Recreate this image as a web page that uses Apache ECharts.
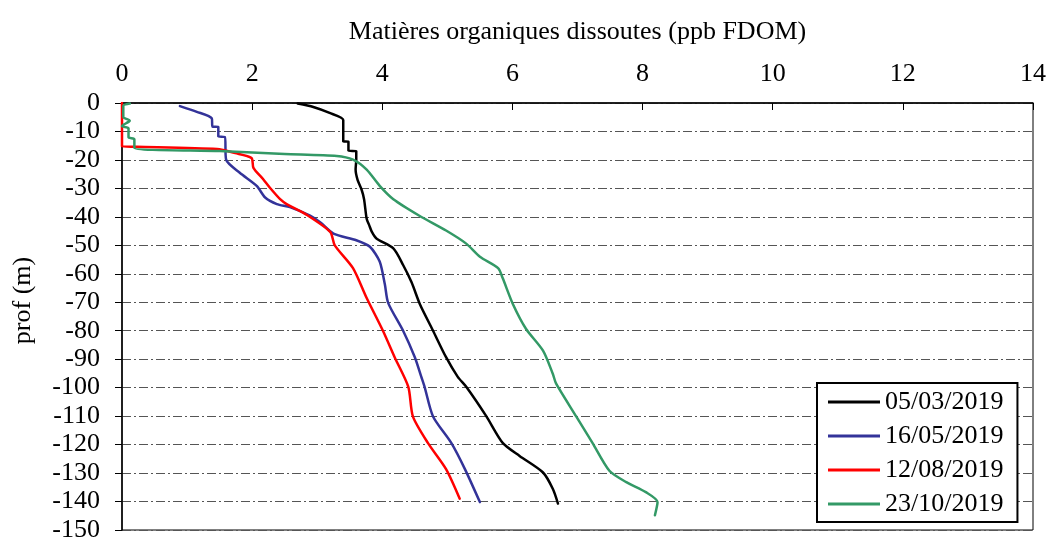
<!DOCTYPE html>
<html>
<head>
<meta charset="utf-8">
<script src="https://cdn.jsdelivr.net/npm/echarts@6/dist/echarts.min.js"></script>
<style>
  html, body { margin: 0; padding: 0; background: #fff; }
  #chart { width: 1049px; height: 543px; }
</style>
</head>
<body>
<div id="chart"></div>
<script>
// Profils verticaux de FDOM (ppb) en fonction de la profondeur (m)
const seriesNames = ['05/03/2019', '16/05/2019', '12/08/2019', '23/10/2019'];
const seriesColors = ['#000000', '#333399', '#FF0000', '#339966'];

const prof0503 = [-0.2, -1.4, -3.5, -6.0, -13.5, -13.6, -16.8, -16.9, -19.9, -23.4, -27.0, -30.3, -33.8, -40.7, -43.0, -45.3, -47.6, -51.1, -56.9, -63.0, -70.8, -80.0, -89.3, -96.2, -99.7, -110.1, -119.4, -124.0, -129.8, -135.5, -140.7];
const fdom0503 = [2.70, 2.94, 3.19, 3.40, 3.40, 3.48, 3.48, 3.60, 3.60, 3.59, 3.62, 3.68, 3.72, 3.76, 3.80, 3.84, 3.91, 4.17, 4.32, 4.45, 4.58, 4.78, 4.98, 5.16, 5.29, 5.60, 5.85, 6.11, 6.47, 6.62, 6.70];

const prof1605 = [-1.1, -3.1, -5.4, -8.3, -8.4, -11.8, -11.9, -19.9, -24.5, -29.1, -33.2, -35.5, -36.6, -39.6, -42.0, -45.9, -48.2, -50.5, -55.7, -63.8, -70.2, -80.0, -89.3, -96.2, -99.7, -110.1, -119.4, -128.6, -140.2];
const fdom1605 = [0.89, 1.15, 1.38, 1.39, 1.48, 1.48, 1.58, 1.60, 1.81, 2.07, 2.20, 2.38, 2.58, 2.89, 3.05, 3.25, 3.60, 3.81, 3.96, 4.04, 4.09, 4.32, 4.50, 4.60, 4.65, 4.78, 5.06, 5.27, 5.50];

const prof1208 = [0.0, -15.3, -15.4, -16.2, -17.6, -19.3, -22.8, -26.8, -29.7, -33.8, -35.5, -39.3, -45.3, -50.0, -58.0, -68.5, -80.0, -89.3, -99.7, -110.1, -119.4, -128.6, -139.0];
const fdom1208 = [0.00, 0.00, 0.23, 1.46, 1.74, 1.99, 2.02, 2.17, 2.27, 2.43, 2.53, 2.84, 3.20, 3.27, 3.55, 3.76, 4.01, 4.19, 4.40, 4.47, 4.70, 4.98, 5.19];

const prof2310 = [-0.2, -1.0, -4.9, -6.2, -8.1, -8.9, -12.0, -12.7, -15.8, -16.9, -17.9, -18.6, -19.9, -23.4, -29.1, -33.8, -39.6, -44.8, -49.4, -54.0, -58.0, -61.5, -70.8, -79.4, -87.0, -95.1, -98.5, -110.1, -119.4, -129.2, -133.2, -136.7, -140.2, -144.8];
const fdom2310 = [0.12, 0.02, 0.02, 0.12, 0.00, 0.10, 0.10, 0.19, 0.19, 1.50, 2.50, 3.30, 3.55, 3.76, 3.96, 4.17, 4.57, 4.98, 5.29, 5.50, 5.78, 5.85, 6.01, 6.21, 6.47, 6.62, 6.67, 6.98, 7.23, 7.49, 7.75, 8.05, 8.23, 8.19];

const xTickMin = 0, xTickMax = 14, xTickStep = 2;
const yTickMin = -150, yTickMax = 0, yTickStep = 10;

const profils = [[fdom0503, prof0503], [fdom1605, prof1605], [fdom1208, prof1208], [fdom2310, prof2310]];

const fontFamily = "'Liberation Serif', 'Times New Roman', serif";
const chart = echarts.init(document.getElementById('chart'), null, { renderer: 'canvas' });

chart.setOption({
  animation: false,
  backgroundColor: '#ffffff',
  textStyle: { fontFamily: fontFamily, color: '#000' },
  grid: {
    left: 122, top: 103, right: 15, bottom: 8,
    show: true, borderColor: '#000', borderWidth: 1, backgroundColor: 'transparent'
  },
  legend: {
    orient: 'vertical',
    left: 817, top: 383,
    width: 201,
    backgroundColor: '#fff',
    borderColor: '#000', borderWidth: 2,
    padding: [6, 14, 5, 11],
    itemGap: 8,
    itemWidth: 52, itemHeight: 3,
    icon: 'rect',
    textStyle: { fontFamily: fontFamily, fontSize: 26, color: '#000' },
    data: seriesNames
  },
  xAxis: {
    type: 'value',
    position: 'top',
    min: xTickMin, max: xTickMax, interval: xTickStep,
    name: 'Matières organiques dissoutes (ppb FDOM)',
    nameLocation: 'middle',
    nameGap: 58,
    nameTextStyle: { fontFamily: fontFamily, fontSize: 26, color: '#000' },
    axisLine: { show: true, onZero: false, lineStyle: { color: '#000', width: 1.5 } },
    axisTick: { show: true, inside: true, length: 7, lineStyle: { color: '#000', width: 1 } },
    axisLabel: { margin: 16, fontFamily: fontFamily, fontSize: 26, color: '#000' },
    splitLine: { show: false }
  },
  yAxis: {
    type: 'value',
    min: yTickMin, max: yTickMax, interval: yTickStep,
    name: 'prof (m)',
    nameLocation: 'middle',
    nameGap: 86,
    nameRotate: 90,
    nameTextStyle: { fontFamily: fontFamily, fontSize: 26, color: '#000', padding: [0, 0, 0, 32] },
    axisLine: { show: true, onZero: false, lineStyle: { color: '#000', width: 1.5 } },
    axisTick: { show: true, inside: false, length: 7, lineStyle: { color: '#000', width: 1 } },
    axisLabel: { margin: 22, fontFamily: fontFamily, fontSize: 26, color: '#000' },
    splitLine: {
      show: true,
      lineStyle: { color: '#555', width: 1, type: [9, 3, 2, 3] }
    }
  },
  series: profils.map(function (p, i) {
    return {
      name: seriesNames[i],
      type: 'line',
      showSymbol: false,
      smooth: 0.25,
      color: seriesColors[i],
      lineStyle: { color: seriesColors[i], width: 2.5, join: 'round', cap: 'round' },
      data: p[0].map(function (v, k) { return [v, p[1][k]]; })
    };
  })
});
</script>
</body>
</html>
